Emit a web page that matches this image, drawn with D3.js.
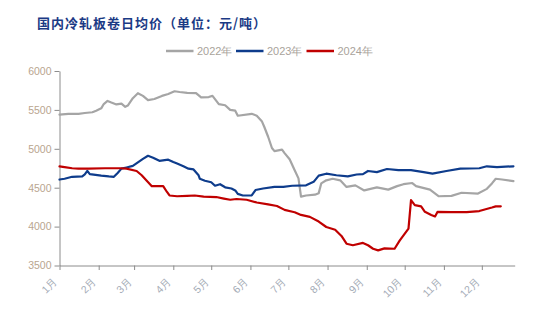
<!DOCTYPE html>
<html>
<head>
<meta charset="utf-8">
<script src="https://cdn.jsdelivr.net/npm/d3@7"></script>
<style>
  html, body { margin: 0; padding: 0; background: #fff; }
  svg { display: block; }
</style>
</head>
<body>
<svg id="chart" width="534" height="322"></svg>
<script>
// 国内冷轧板卷日均价 (元/吨), one line per year on a shared Jan–Dec axis
const chartTitle = "国内冷轧板卷日均价（单位：元/吨）";
const monthLabels = ["1月","2月","3月","4月","5月","6月","7月","8月","9月","10月","11月","12月"];
const yTicks = [3500, 4000, 4500, 5000, 5500, 6000];
const seriesNames = ["2022年", "2023年", "2024年"];
const seriesColors = ["#a5a5a5", "#0e3c8c", "#c00000"];

const dates2022 = ["01-01","01-08","01-16","01-21","01-27","01-30","02-03","02-05","02-08","02-11","02-15","02-19","02-22","02-24","02-28","03-04","03-08","03-12","03-17","03-23","03-28","04-02","04-06","04-12","04-19","04-23","04-29","05-02","05-07","05-12","05-16","05-20","05-22","06-02","06-06","06-10","06-12","06-15","06-18","06-20","06-26","06-28","07-02","07-06","07-09","07-11","07-15","07-22","07-25","07-27","07-31","08-05","08-11","08-16","08-23","08-30","09-09","09-18","09-25","09-30","10-07","10-10","10-21","10-28","11-07","11-15","11-28","12-05","12-09","12-12","12-17","12-26"];
const price2022 = [5440,5450,5450,5460,5470,5490,5520,5575,5615,5595,5570,5580,5540,5555,5650,5715,5680,5625,5640,5680,5705,5740,5730,5720,5715,5660,5665,5680,5575,5560,5500,5490,5425,5450,5425,5355,5280,5155,5010,4970,4990,4945,4865,4725,4620,4385,4400,4410,4430,4555,4595,4615,4595,4510,4530,4465,4505,4475,4520,4545,4560,4520,4475,4390,4395,4435,4425,4485,4555,4615,4605,4585];

const dates2023 = ["01-01","01-05","01-11","01-19","01-21","01-23","01-25","02-03","02-09","02-13","02-16","02-19","02-23","02-28","03-04","03-08","03-12","03-16","03-21","03-28","04-01","04-04","04-09","04-13","04-17","04-21","04-22","04-26","05-01","05-04","05-08","05-12","05-17","05-20","05-22","05-26","06-02","06-05","06-11","06-20","06-27","07-04","07-15","07-21","07-25","07-31","08-08","08-17","08-24","08-29","09-02","09-09","09-17","09-26","10-06","10-16","10-23","11-03","11-14","11-29","12-05","12-13","12-26"];
const price2023 = [4605,4615,4640,4645,4670,4715,4675,4655,4645,4640,4690,4745,4760,4780,4825,4870,4910,4885,4845,4860,4830,4810,4775,4745,4735,4660,4615,4590,4570,4525,4545,4505,4490,4465,4420,4400,4400,4470,4490,4510,4510,4525,4530,4575,4655,4680,4660,4645,4670,4675,4715,4700,4740,4725,4725,4700,4680,4715,4745,4750,4775,4765,4775];

const dates2024 = ["01-01","01-05","01-11","01-16","01-24","02-06","02-18","02-23","03-03","03-07","03-11","03-15","03-20","03-24","03-27","03-29","04-04","04-12","04-18","04-25","05-05","05-11","05-16","05-21","05-29","06-06","06-15","06-22","06-28","07-06","07-11","07-18","07-25","07-31","08-07","08-12","08-16","08-21","08-29","09-02","09-06","09-10","09-15","09-23","09-27","10-04","10-06","10-09","10-14","10-17","10-22","10-25","10-27","11-07","11-19","11-29","12-09","12-12","12-16"];
const price2024 = [4775,4765,4750,4745,4745,4750,4750,4745,4715,4660,4590,4520,4520,4520,4445,4400,4390,4395,4400,4385,4380,4360,4345,4355,4345,4310,4285,4265,4215,4185,4150,4125,4065,3995,3960,3880,3780,3760,3790,3760,3715,3695,3720,3715,3820,3975,4340,4275,4260,4190,4150,4130,4190,4185,4185,4200,4245,4260,4260];

const seriesDates = [dates2022, dates2023, dates2024];
const seriesValues = [price2022, price2023, price2024];

const parseDay = d3.timeParse("%Y-%m-%d");
const toDate = s => parseDay("2023-" + s);

const svg = d3.select("#chart");

const x = d3.scaleTime()
  .domain([toDate("01-01"), toDate("12-27")])
  .range([59.5, 514.7]);
const y = d3.scaleLinear()
  .domain([3500, 6000])
  .range([265.5, 71]);

// title
svg.append("text")
  .attr("x", 37)
  .attr("y", 28)
  .attr("fill", "#1b3a85")
  .attr("font-family", "'Noto Sans CJK SC', sans-serif")
  .attr("font-weight", 700)
  .attr("font-size", 13)
  .attr("letter-spacing", 1)
  .text(chartTitle);

// legend
const legendX = [166, 236, 306.5];
const legend = svg.append("g").attr("class", "legend");
seriesNames.forEach((name, i) => {
  const g = legend.append("g").attr("transform", `translate(${legendX[i]},51)`);
  g.append("line")
    .attr("x1", 0).attr("x2", 27.5)
    .attr("y1", 0).attr("y2", 0)
    .attr("stroke", seriesColors[i])
    .attr("stroke-width", 2.5);
  g.append("text")
    .attr("x", 31)
    .attr("y", 4)
    .attr("fill", "#a9a39b")
    .attr("font-family", "'Liberation Sans', Arial, sans-serif")
    .attr("font-size", 11)
    .text(name);
});

// y axis
const yAxis = svg.append("g")
  .attr("transform", "translate(59.5,0)")
  .call(d3.axisLeft(y).tickValues(yTicks).tickSize(5).tickSizeOuter(0).tickPadding(3).tickFormat(d3.format("d")));
yAxis.select(".domain").attr("stroke", "#8c8c8c");
yAxis.selectAll(".tick line").attr("stroke", "#8c8c8c");
yAxis.selectAll(".tick text")
  .attr("fill", "#b9a58f")
  .attr("font-family", "'Liberation Sans', Arial, sans-serif")
  .attr("font-size", 10.5);

// x axis with month ticks
const monthStarts = d3.timeMonth.range(toDate("01-01"), toDate("12-27"));
const xAxis = svg.append("g")
  .attr("transform", "translate(0,265.5)")
  .call(d3.axisBottom(x).tickValues(monthStarts).tickSize(4.5).tickSizeOuter(0)
    .tickFormat((d, i) => monthLabels[i]));
xAxis.select(".domain").attr("stroke", "#8c8c8c");
xAxis.selectAll(".tick line").attr("stroke", "#8c8c8c");
xAxis.selectAll(".tick text")
  .attr("fill", "#a4abb6")
  .attr("font-family", "'Liberation Sans', Arial, sans-serif")
  .attr("font-size", 10.5)
  .attr("text-anchor", "end")
  .attr("dy", null)
  .attr("y", null)
  .attr("transform", "translate(-2,16.5) rotate(-45)");

// price lines
const line = d3.line()
  .x(d => x(d[0]))
  .y(d => y(d[1]));

seriesNames.forEach((name, i) => {
  const pts = seriesDates[i].map((s, j) => [toDate(s), seriesValues[i][j]]);
  svg.append("path")
    .datum(pts)
    .attr("fill", "none")
    .attr("stroke", seriesColors[i])
    .attr("stroke-width", 2.2)
    .attr("stroke-linejoin", "round")
    .attr("stroke-linecap", "round")
    .attr("d", line);
});
</script>
</body>
</html>
